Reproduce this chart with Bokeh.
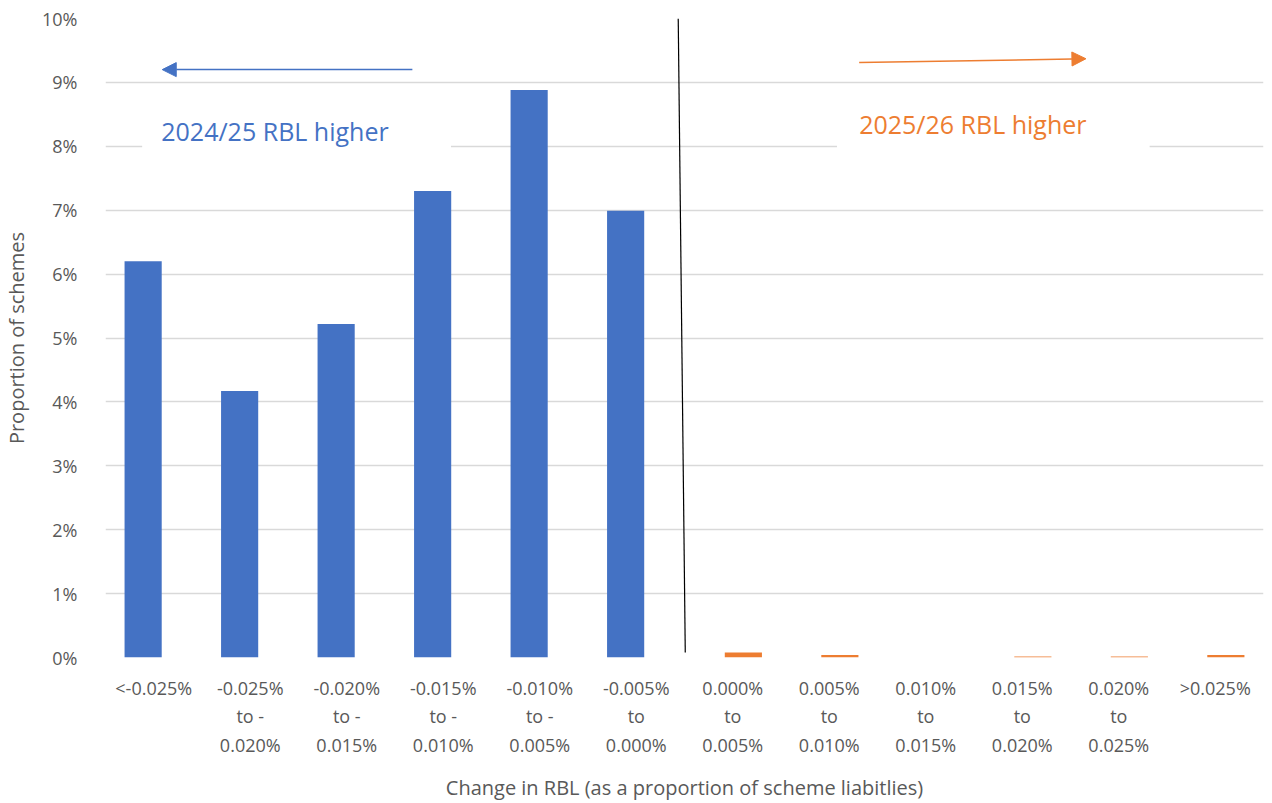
from bokeh.plotting import figure
from bokeh.models import FixedTicker, Arrow, NormalHead, ColumnDataSource
from bokeh.transform import dodge
from bokeh.core.properties import value
from bokeh.embed import file_html
from bokeh.resources import INLINE

categories = ["<-0.025%", "-0.025%\nto -\n0.020%", "-0.020%\nto -\n0.015%", "-0.015%\nto -\n0.010%",
              "-0.010%\nto -\n0.005%", "-0.005%\nto\n0.000%", "0.000%\nto\n0.005%", "0.005%\nto\n0.010%",
              "0.010%\nto\n0.015%", "0.015%\nto\n0.020%", "0.020%\nto\n0.025%", ">0.025%"]
blue_values = [6.2, 4.17, 5.22, 7.3, 8.88, 6.99, 0, 0, 0, 0, 0, 0]
orange_values = [0, 0, 0, 0, 0, 0, 0.08, 0.04, 0, 0.015, 0.015, 0.04]
y_ticks = list(range(0, 11))

BLUE = "#4472C4"
ORANGE = "#ED7D31"
GREY = "#595959"
FONT = "Open Sans"

idx = list(range(len(categories)))
src = ColumnDataSource(dict(x=idx, blue=blue_values, orange=orange_values))

p = figure(width=1272, height=803, frame_width=1158, frame_height=639,
           x_range=(-0.5, 11.5), y_range=(0, 10),
           output_backend="svg", toolbar_location=None,
           min_border_left=104, min_border_top=18, min_border_right=8, min_border_bottom=146)
p.outline_line_color = None
p.background_fill_color = "white"
p.border_fill_color = "white"

p.vbar(x=dodge("x", -0.11), top="blue", width=0.385, source=src, fill_color=BLUE, line_color=None)
p.vbar(x=dodge("x", 0.11), top="orange", width=0.385, source=src, fill_color=ORANGE, line_color=None)

# axes
p.xaxis.ticker = FixedTicker(ticks=idx)
p.xaxis.major_label_overrides = {i: c for i, c in enumerate(categories)}
p.yaxis.ticker = FixedTicker(ticks=y_ticks)
p.yaxis.major_label_overrides = {t: f"{t}%" for t in y_ticks}
for ax in (p.xaxis[0], p.yaxis[0]):
    ax.axis_line_color = None
    ax.major_tick_line_color = None
    ax.minor_tick_line_color = None
    ax.major_label_text_font = FONT
    ax.major_label_text_font_size = "18px"
    ax.major_label_text_color = GREY
    ax.axis_label_text_font = FONT
    ax.axis_label_text_font_size = "20px"
    ax.axis_label_text_font_style = "normal"
    ax.axis_label_text_color = GREY
p.xaxis.major_label_standoff = 12
p.yaxis.major_label_standoff = 22
p.xaxis.axis_label = "Change in RBL (as a proportion of scheme liabitlies)"
p.yaxis.axis_label = "Proportion of schemes"
p.xaxis.axis_label_standoff = 14
p.yaxis.axis_label_standoff = 9

p.xgrid.grid_line_color = None
p.ygrid.grid_line_color = "#D9D9D9"
p.ygrid.grid_line_width = 1.3

# white boxes behind annotation text
p.quad(left=[-0.12, 7.08], right=[3.08, 10.32], bottom=[7.97, 7.97], top=[8.7, 8.7],
       fill_color="white", line_color=None)

p.text(x=[0.078], y=[8.24], text=["2024/25 RBL higher"], text_color=BLUE,
       text_font=value(FONT), text_font_size="25px", text_baseline="middle")
p.text(x=[7.31], y=[8.35], text=["2025/26 RBL higher"], text_color=ORANGE,
       text_font=value(FONT), text_font_size="25px", text_baseline="middle")

# divider line
p.segment(x0=[5.435], y0=[10], x1=[5.508], y1=[0.08], line_color="black", line_width=1.2)

# arrows
p.add_layout(Arrow(x_start=2.68, y_start=9.2, x_end=0.088, y_end=9.2,
                   line_color=BLUE, line_width=1.5,
                   end=NormalHead(size=14, fill_color=BLUE, line_color=BLUE)))
p.add_layout(Arrow(x_start=7.31, y_start=9.31, x_end=9.66, y_end=9.37,
                   line_color=ORANGE, line_width=1.5,
                   end=NormalHead(size=14, fill_color=ORANGE, line_color=ORANGE)))

open("out.html", "w").write(file_html(p, INLINE))
